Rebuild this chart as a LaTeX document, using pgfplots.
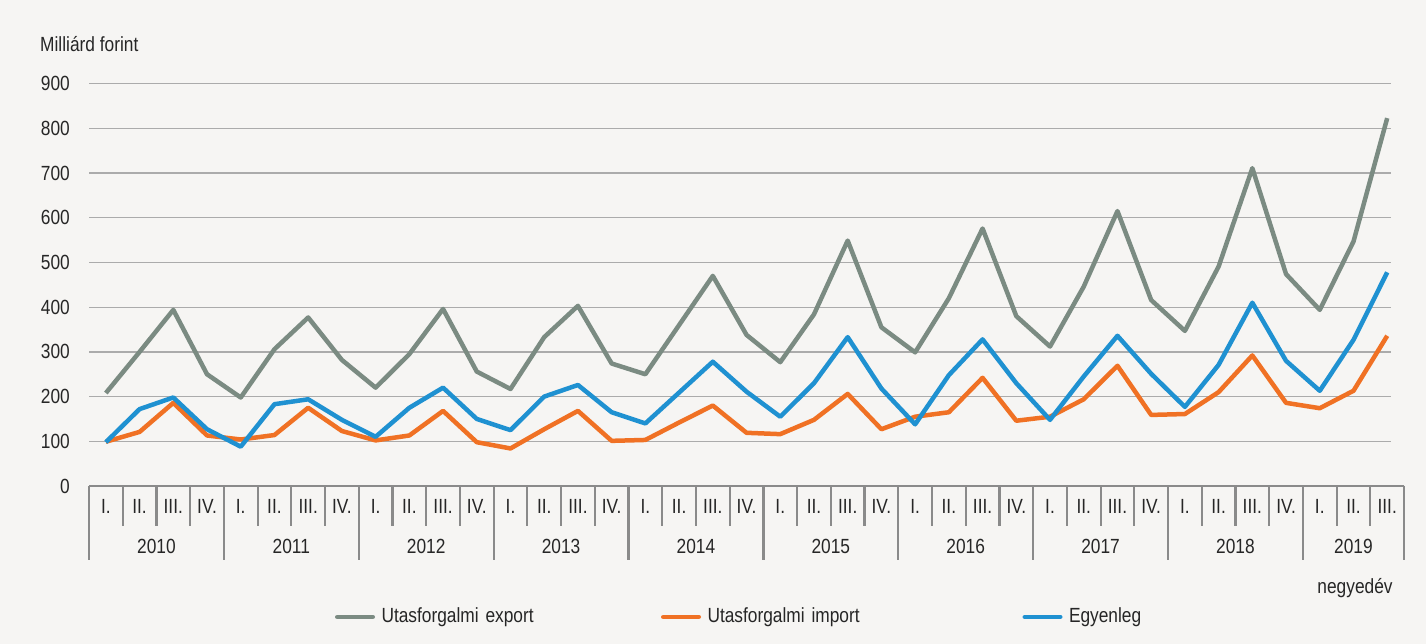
\documentclass[border=0pt]{standalone}
\usepackage{pgfplots}
\usepackage{pgfplotstable}
\pgfplotsset{compat=1.18}
\usepackage{fontspec}
\setmainfont{Liberation Sans}[FakeStretch=0.845]
\definecolor{bgc}{HTML}{F6F5F3}
\definecolor{expc}{HTML}{7B8B82}
\definecolor{impc}{HTML}{F07124}
\definecolor{balc}{HTML}{1F91D1}
\definecolor{gridc}{HTML}{ABABAB}
\definecolor{axc}{HTML}{8A8A8A}
\definecolor{txt}{HTML}{262626}

\pgfplotstableread{
i exp imp bal
0 208 99 98
1 300 121 172
2 394 186 198
3 250 113 127
4 198 104 88
5 306 114 183
6 377 175 194
7 282 123 148
8 220 102 110
9 295 113 175
10 396 168 220
11 256 98 150
12 217 84 125
13 333 127 200
14 403 168 226
15 274 101 165
16 250 103 140
17 360 142 209
18 470 180 278
19 338 119 211
20 277 116 155
21 384 148 230
22 549 206 333
23 355 127 218
24 299 155 138
25 420 165 248
26 576 242 328
27 380 146 230
28 312 155 148
29 446 194 245
30 615 269 336
31 416 159 251
32 347 161 177
33 491 210 271
34 711 292 410
35 474 186 280
36 394 174 213
37 547 213 327
38 823 336 478
}\datatable

\begin{document}
\fontsize{20.5bp}{24bp}\selectfont
\begin{tikzpicture}[x=1bp,y=1bp]
\fill[bgc] (0,0) rectangle (1426,644);
\node[anchor=west, text=txt, inner sep=0pt] at (40,600) {Milliárd forint};
\node[anchor=center, text=txt, inner sep=0pt] at (1355,56) {negyedév};
\begin{axis}[
  at={(89bp,158bp)}, anchor=south west,
  scale only axis, width=1302bp, height=402.3bp,
  xmin=-0.5, xmax=38.114, ymin=0, ymax=900,
  clip=false,
  axis line style={draw=none},
  tick style={draw=none},
  major tick length=0pt,
  ytick={0,100,...,900},
  xtick={0,...,38},
  xticklabels={I.,II.,III.,IV.,I.,II.,III.,IV.,I.,II.,III.,IV.,I.,II.,III.,IV.,I.,II.,III.,IV.,I.,II.,III.,IV.,I.,II.,III.,IV.,I.,II.,III.,IV.,I.,II.,III.,IV.,I.,II.,III.},
  ymajorgrids,
  grid style={gridc, line width=1.3bp},
  /pgf/number format/assume math mode=true,
  tick label style={text=txt},
  yticklabel style={anchor=east, inner sep=0pt, xshift=-19bp},
  xticklabel style={anchor=center, inner sep=0pt, yshift=-20.7bp},
  legend columns=3,
  legend cell align=left,
  legend image code/.code={\draw[#1, line cap=round] (2.25bp,0bp) -- (37.75bp,0bp);},
  legend style={at={(0.18894,-0.32563)}, anchor=west, draw=none, fill=none,
    inner sep=0pt, outer sep=0pt, text=txt,
    nodes={inner sep=0pt},
    /tikz/column 1/.style={column sep=6.5bp},
    /tikz/column 3/.style={column sep=6.5bp},
    /tikz/column 5/.style={column sep=6.5bp},
    /tikz/column 2/.style={text width=279.5bp},
    /tikz/column 4/.style={text width=315bp}},
]
\addplot[expc, line width=4.5bp, line join=round] table[x=i, y=exp] {\datatable};
\addlegendentry{Utasforgalmi export}
\addplot[impc, line width=4.5bp, line join=round] table[x=i, y=imp] {\datatable};
\addlegendentry{Utasforgalmi import}
\addplot[balc, line width=4.5bp, line join=round] table[x=i, y=bal] {\datatable};
\addlegendentry{Egyenleg}
\draw[axc, line width=2.6bp] (axis cs:-0.5,0) -- (axis cs:38.5,0);
\pgfplotsinvokeforeach{-0.5,0.5,...,38.5}{\draw[axc, line width=2.2bp] (axis cs:#1,0) -- ++(0bp,-40bp);}
\pgfplotsinvokeforeach{-0.5,3.5,7.5,11.5,15.5,19.5,23.5,27.5,31.5,35.5,38.5}{\draw[axc, line width=2.2bp] (axis cs:#1,0) -- ++(0bp,-74bp);}
\node[text=txt, inner sep=0pt, yshift=-60.7bp] at (axis cs:1.5,0) {2010};
\node[text=txt, inner sep=0pt, yshift=-60.7bp] at (axis cs:5.5,0) {2011};
\node[text=txt, inner sep=0pt, yshift=-60.7bp] at (axis cs:9.5,0) {2012};
\node[text=txt, inner sep=0pt, yshift=-60.7bp] at (axis cs:13.5,0) {2013};
\node[text=txt, inner sep=0pt, yshift=-60.7bp] at (axis cs:17.5,0) {2014};
\node[text=txt, inner sep=0pt, yshift=-60.7bp] at (axis cs:21.5,0) {2015};
\node[text=txt, inner sep=0pt, yshift=-60.7bp] at (axis cs:25.5,0) {2016};
\node[text=txt, inner sep=0pt, yshift=-60.7bp] at (axis cs:29.5,0) {2017};
\node[text=txt, inner sep=0pt, yshift=-60.7bp] at (axis cs:33.5,0) {2018};
\node[text=txt, inner sep=0pt, yshift=-60.7bp] at (axis cs:37,0) {2019};
\end{axis}
\pgfresetboundingbox
\useasboundingbox (0,0) rectangle (1426,644);
\end{tikzpicture}
\end{document}
